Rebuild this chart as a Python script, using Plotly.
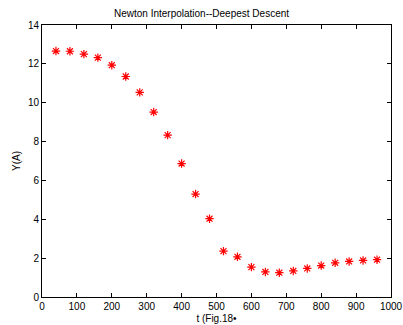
import plotly.graph_objects as go

t = [40, 80, 120, 160, 200, 240, 280, 320, 360, 400, 440, 480,
     520, 560, 600, 640, 680, 720, 760, 800, 840, 880, 920, 960]
y = [12.66, 12.65, 12.5, 12.32, 11.93, 11.35, 10.53, 9.52, 8.33, 6.87, 5.3, 4.03,
     2.36, 2.07, 1.54, 1.29, 1.25, 1.34, 1.47, 1.62, 1.76, 1.83, 1.88, 1.92]

FONT = "Liberation Sans, Arial"

fig = go.Figure()
fig.add_trace(go.Scatter(
    x=t, y=y, mode="markers",
    marker=dict(symbol="asterisk-open", size=7, color="red",
                line=dict(color="red", width=1.2)),
    showlegend=False))

axis_common = dict(showgrid=False, zeroline=False, showline=True, mirror="ticks",
                   linecolor="black", linewidth=1, ticks="inside", ticklen=4,
                   tickcolor="black", automargin=False,
                   tickfont=dict(family=FONT, size=10, color="black"))

fig.update_layout(
    width=403, height=325,
    margin=dict(l=42, r=12, t=25, b=28),
    paper_bgcolor="white", plot_bgcolor="white",
    title=dict(text="Newton Interpolation--Deepest Descent", x=0.5, xanchor="center",
               y=0.958, yanchor="middle",
               font=dict(family=FONT, size=10, color="black")),
    xaxis=dict(range=[0, 1000], tickvals=list(range(0, 1001, 100)),
               title=dict(text="t (Fig.18•", standoff=3,
                          font=dict(family=FONT, size=10, color="black")),
               **axis_common),
    yaxis=dict(range=[0, 14], tickvals=list(range(0, 15, 2)),
               title=dict(text="Y(A)", standoff=5,
                          font=dict(family=FONT, size=10, color="black")),
               **axis_common),
)

fig.write_html("out.html")
